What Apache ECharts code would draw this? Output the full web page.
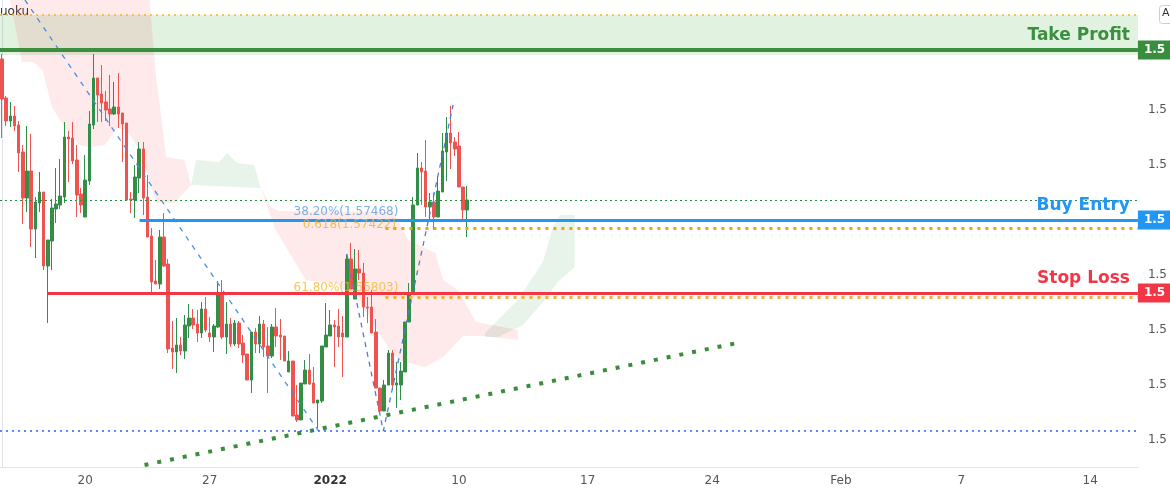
<!DOCTYPE html>
<html>
<head>
<meta charset="utf-8">
<script src="https://cdn.jsdelivr.net/npm/echarts@6/dist/echarts.min.js"></script>
<style>
html,body{margin:0;padding:0;background:#fff;}
#chart{width:1170px;height:495px;}
</style>
</head>
<body>
<div id="chart"></div>
<script>
// slots on the time axis (4h bars, weekends skipped)
var slotCount = 274;
var tickSlots = [20, 50, 79, 110, 141, 171, 202, 231, 262];
var tickTexts = ['20', '27', '2022', '10', '17', '24', 'Feb', '7', '14'];
var priceLabels = [1.619, 1.608, 1.597, 1.575, 1.564, 1.553, 1.542];

// [open, close, low, high]
var candles = [
  [1.6182,1.6102,1.6024,1.6192],[1.6104,1.6058,1.6048,1.6108],[1.6058,1.6068,1.6046,1.6096],[1.6068,1.6048,1.6038,1.6088],
  [1.6050,1.5994,1.5956,1.6058],[1.5996,1.5904,1.5852,1.6010],[1.5904,1.5958,1.5876,1.6048],[1.5958,1.5842,1.5806,1.6032],
  [1.5842,1.5896,1.5784,1.5906],[1.5894,1.5916,1.5876,1.5956],[1.5916,1.5768,1.5760,1.5916],[1.5768,1.5820,1.5654,1.5820],
  [1.5818,1.5884,1.5760,1.5902],[1.5882,1.5892,1.5854,1.5964],[1.5890,1.5908,1.5882,1.5982],[1.5906,1.6026,1.5894,1.6056],
  [1.6026,1.6022,1.5936,1.6038],[1.6024,1.5978,1.5972,1.6056],[1.5980,1.5910,1.5866,1.6010],[1.5912,1.5890,1.5874,1.5924],
  [1.5866,1.5940,1.5866,1.5990],[1.5938,1.6052,1.5930,1.6078],[1.6050,1.6144,1.6042,1.6192],[1.6144,1.6110,1.6056,1.6144],
  [1.6112,1.6094,1.6056,1.6170],[1.6096,1.6080,1.6058,1.6118],[1.6082,1.6072,1.6048,1.6150],[1.6072,1.6086,1.6070,1.6136],
  [1.6086,1.6072,1.6044,1.6154],[1.6074,1.6052,1.5976,1.6074],[1.6054,1.5900,1.5900,1.6054],[1.5902,1.5900,1.5874,1.5916],
  [1.5900,1.5946,1.5864,1.5970],[1.5944,1.6002,1.5914,1.6016],[1.6002,1.5904,1.5870,1.6016],[1.5906,1.5826,1.5826,1.5950],
  [1.5828,1.5736,1.5716,1.5844],[1.5738,1.5732,1.5732,1.5780],[1.5732,1.5826,1.5722,1.5840],[1.5826,1.5768,1.5766,1.5874],
  [1.5772,1.5602,1.5594,1.5782],[1.5604,1.5596,1.5562,1.5658],[1.5596,1.5610,1.5554,1.5664],[1.5610,1.5598,1.5590,1.5626],
  [1.5598,1.5650,1.5582,1.5670],[1.5648,1.5664,1.5624,1.5692],[1.5664,1.5650,1.5642,1.5682],[1.5652,1.5634,1.5616,1.5680],
  [1.5634,1.5682,1.5624,1.5696],[1.5682,1.5640,1.5636,1.5706],[1.5634,1.5626,1.5616,1.5666],[1.5626,1.5648,1.5596,1.5652],
  [1.5646,1.5714,1.5644,1.5738],[1.5714,1.5626,1.5622,1.5740],[1.5626,1.5652,1.5592,1.5696],[1.5652,1.5612,1.5606,1.5664],
  [1.5612,1.5654,1.5608,1.5660],[1.5654,1.5612,1.5604,1.5658],[1.5614,1.5590,1.5574,1.5630],[1.5592,1.5540,1.5540,1.5592],
  [1.5540,1.5636,1.5514,1.5636],[1.5636,1.5612,1.5594,1.5644],[1.5612,1.5652,1.5594,1.5668],[1.5652,1.5606,1.5586,1.5660],
  [1.5608,1.5588,1.5514,1.5646],[1.5588,1.5646,1.5584,1.5652],[1.5646,1.5628,1.5606,1.5684],[1.5630,1.5626,1.5580,1.5662],
  [1.5628,1.5578,1.5578,1.5628],[1.5556,1.5578,1.5556,1.5598],[1.5578,1.5468,1.5468,1.5578],[1.5470,1.5460,1.5456,1.5530],
  [1.5460,1.5534,1.5460,1.5534],[1.5532,1.5560,1.5532,1.5580],[1.5560,1.5532,1.5530,1.5592],[1.5534,1.5494,1.5494,1.5566],
  [1.5494,1.5500,1.5444,1.5500],[1.5498,1.5608,1.5494,1.5608],[1.5606,1.5630,1.5606,1.5694],[1.5628,1.5650,1.5628,1.5680],
  [1.5650,1.5646,1.5566,1.5660],[1.5648,1.5626,1.5606,1.5682],[1.5634,1.5626,1.5546,1.5668],[1.5626,1.5782,1.5626,1.5792],
  [1.5782,1.5722,1.5722,1.5814],[1.5702,1.5762,1.5702,1.5802],[1.5762,1.5754,1.5740,1.5800],[1.5754,1.5686,1.5666,1.5774],
  [1.5686,1.5684,1.5654,1.5706],[1.5686,1.5634,1.5634,1.5720],[1.5636,1.5524,1.5524,1.5662],[1.5524,1.5478,1.5478,1.5524],
  [1.5478,1.5530,1.5478,1.5540],[1.5530,1.5594,1.5530,1.5600],[1.5594,1.5530,1.5520,1.5600],[1.5530,1.5534,1.5484,1.5576],
  [1.5530,1.5558,1.5500,1.5576],[1.5556,1.5656,1.5556,1.5656],[1.5656,1.5714,1.5656,1.5734],[1.5714,1.5890,1.5714,1.5906],
  [1.5890,1.5964,1.5890,1.5994],[1.5964,1.5956,1.5890,1.5976],[1.5958,1.5886,1.5866,1.6020],[1.5886,1.5896,1.5860,1.5914],
  [1.5896,1.5866,1.5840,1.5914],[1.5866,1.5918,1.5866,1.5946],[1.5916,1.5998,1.5916,1.6034],[1.5996,1.6034,1.5938,1.6066],
  [1.6034,1.6014,1.5962,1.6088],[1.6016,1.6002,1.5988,1.6026],[1.6008,1.5926,1.5926,1.6036],[1.5926,1.5880,1.5860,1.5926],
  [1.5880,1.5900,1.5826,1.5928]
];

// ichimoku cloud outlines [slot, price]
var cloudPinkA = [[1.9,1.630],[35.5,1.630],[37.1,1.6146],[39.5,1.5986],[43.9,1.598],[45.5,1.593],[41.5,1.5894],[37.1,1.5894],
  [35,1.5954],[33.1,1.600],[30,1.604],[27.8,1.6044],[24.7,1.601],[21.1,1.6006],[18.7,1.601],[14.4,1.6054],[12,1.6086],
  [9.8,1.616],[7.4,1.6176],[4.8,1.6176]];
var cloudGreenA = [[45.5,1.593],[46.7,1.598],[52.3,1.5976],[54.2,1.5994],[56.6,1.5974],[60.7,1.597],[62.3,1.5924]];
var cloudPinkB = [[62.3,1.5924],[64.7,1.5886],[66.6,1.5878],[94.2,1.5876],[97.8,1.582],[104.3,1.5794],[106.2,1.574],
  [109.8,1.572],[114.1,1.5656],[124.2,1.564],[124.2,1.562],[115.8,1.5628],[111,1.5628],[106.2,1.5586],[101.9,1.5566],
  [95.4,1.558],[91.8,1.562],[85.8,1.570],[80.3,1.5734],[73.1,1.574],[65.9,1.584]];
var cloudGreenB = [[116.3,1.5634],[124.2,1.570],[130.2,1.5776],[132.6,1.5844],[134.3,1.587],[137.9,1.587],[137.9,1.5766],
  [133.8,1.5736],[130.7,1.570],[125.4,1.565],[119.4,1.5626],[116.3,1.5626]];

// drawings
var fallLine = [[5.5,1.630],[76.2,1.5438]];
var fibLegs = [[83,1.5792],[91.8,1.5438],[108.6,1.609]];
var trendLine = [[34.3,1.537],[177,1.5614]];

// levels
var takeProfit = 1.6200, tpZoneTop = 1.6270, tpZoneBottom = 1.6190;
var buyEntry = 1.5860, fib618 = 1.5844, stopLoss = 1.5714, fib618b = 1.5706;
var greenDot = 1.5900, lowLine = 1.5438;
var buyStart = 33.1, stopStart = 11, fibStart = 92.3, endSlot = 273.5;

var cats = [];
for (var i = 0; i < slotCount; i++) cats.push(String(i));

var cloudShapes = [
  {pts: cloudPinkA, fill: 'rgba(242,54,69,0.11)'},
  {pts: cloudGreenA, fill: 'rgba(67,160,71,0.12)'},
  {pts: cloudPinkB, fill: 'rgba(242,54,69,0.11)'},
  {pts: cloudGreenB, fill: 'rgba(67,160,71,0.12)'}
];

function hLine(x0, y, color, width, type) {
  return [{coord: [x0, y], lineStyle: {color: color, width: width, type: type}}, {coord: [endSlot, y]}];
}
function boxLine(y, color) {
  return [{coord: [endSlot - 0.01, y], lineStyle: {width: 1, color: 'rgba(0,0,0,0)'},
    label: {show: true, position: 'end', distance: 0, formatter: '1.5', color: '#fff', backgroundColor: color,
      padding: [4, 8, 3, 6], fontSize: 12, fontWeight: 'bold', fontFamily: 'DejaVu Sans'}}, {coord: [endSlot, y]}];
}
function nameLine(x0, y, color, width, text) {
  return [{coord: [x0, y], lineStyle: {color: color, width: width, type: 'solid'},
    label: {show: true, position: 'insideEndTop', distance: [8, 6], formatter: text, color: color,
      fontSize: 17, fontWeight: 'bold', fontFamily: 'DejaVu Sans'}}, {coord: [endSlot, y]}];
}

var myChart = echarts.init(document.getElementById('chart'));
var option = {
  backgroundColor: '#ffffff',
  animation: false,
  grid: {left: 0, right: 27, top: 0, bottom: 28},
  xAxis: [{
    type: 'category',
    data: cats,
    boundaryGap: true,
    axisLine: {lineStyle: {color: '#e0e3eb'}},
    axisTick: {show: false},
    splitLine: {show: false},
    axisLabel: {
      interval: function (idx) { return tickSlots.indexOf(idx) >= 0; },
      formatter: function (v, idx) {
        var k = tickSlots.indexOf(idx);
        if (k < 0) return '';
        return tickTexts[k] === '2022' ? '{b|2022}' : tickTexts[k];
      },
      color: '#555', fontSize: 12, margin: 8, fontFamily: 'DejaVu Sans',
      rich: {b: {fontWeight: 'bold', color: '#333', fontSize: 12, fontFamily: 'DejaVu Sans'}}
    }
  }, {
    type: 'value', min: -0.5, max: slotCount - 0.5, show: false
  }],
  yAxis: {
    type: 'value',
    position: 'right',
    min: 1.5366,
    max: 1.6300,
    axisLine: {show: true, lineStyle: {color: '#e0e3eb'}},
    axisTick: {show: false},
    splitLine: {show: false},
    axisLabel: {
      customValues: priceLabels,
      formatter: function () { return '1.5'; },
      color: '#555', fontSize: 12, margin: 10, fontFamily: 'DejaVu Sans'
    }
  },
  graphic: [
    {type: 'text', left: 0, top: 6, style: {text: 'uoku', fill: '#333', font: '12px DejaVu Sans'}},
    {type: 'rect', left: 1159, top: 5, shape: {width: 16, height: 18, r: 3}, style: {fill: '#fff', stroke: '#ccc'}},
    {type: 'text', left: 1162, top: 8, style: {text: 'A', fill: '#333', font: '11px DejaVu Sans'}}
  ],
  series: [{
    type: 'custom',
    xAxisIndex: 1,
    z: 1,
    data: cloudShapes.map(function (c, k) { return [k]; }),
    renderItem: function (params, api) {
      var c = cloudShapes[params.dataIndex];
      return {type: 'polygon', shape: {points: c.pts.map(function (p) { return api.coord(p); })},
        style: {fill: c.fill}};
    }
  }, {
    type: 'candlestick',
    xAxisIndex: 0,
    z: 3,
    barWidth: 3,
    data: candles,
    itemStyle: {color: '#388e3c', color0: '#ef5350', borderColor: '#2f8f4a', borderColor0: '#ef5350', borderWidth: 1}
  }, {
    type: 'line',
    xAxisIndex: 1,
    z: 4,
    symbol: 'none',
    data: fallLine,
    lineStyle: {color: '#4a8fe0', width: 1.3, type: [5, 6]}
  }, {
    type: 'line',
    xAxisIndex: 1,
    z: 4,
    symbol: 'none',
    data: fibLegs,
    lineStyle: {color: '#4a7fd0', width: 1.3, type: [5, 5]}
  }, {
    type: 'line',
    xAxisIndex: 1,
    z: 4,
    symbol: 'none',
    data: trendLine,
    lineStyle: {color: '#388e3c', width: 4, type: [4, 9]}
  }, {
    type: 'scatter',
    xAxisIndex: 1,
    z: 6,
    symbolSize: 0,
    data: [
      {value: [70.2, buyEntry], label: {formatter: '38.20%(1.57468)', color: '#5c9bdc', offset: [0, -8]}},
      {value: [72.4, fib618], label: {formatter: '0.618(1.57422)', color: '#f0b030', offset: [0, -3]}},
      {value: [70.2, stopLoss], label: {formatter: '61.80%(1.55803)', color: '#f5b82e', offset: [0, -5]}}
    ],
    label: {show: true, position: 'right', distance: 0, fontSize: 12, fontFamily: 'DejaVu Sans'}
  }, {
    type: 'line',
    xAxisIndex: 1,
    z: 5,
    data: [],
    markArea: {
      silent: true,
      itemStyle: {color: 'rgba(76,175,80,0.17)'},
      data: [[{coord: [-0.5, tpZoneTop]}, {coord: [endSlot, tpZoneBottom]}]]
    },
    markLine: {
      silent: true,
      symbol: 'none',
      label: {show: false},
      data: [
        hLine(-0.5, tpZoneTop, '#f2b824', 1.5, [2, 4]),
        hLine(-0.5, greenDot, '#2e8b3e', 1, [2, 3]),
        hLine(-0.5, lowLine, '#2962ff', 1.5, [2, 4]),
        hLine(fibStart, fib618, '#f0a20f', 3, [3, 5]),
        hLine(fibStart, fib618b, '#f5b324', 3, [3, 5]),
        nameLine(-0.5, takeProfit, '#3b8f3f', 4, 'Take Profit'),
        nameLine(buyStart, buyEntry, '#2196f3', 3, 'Buy Entry'),
        nameLine(stopStart, stopLoss, '#f23645', 3, 'Stop Loss'),
        boxLine(takeProfit, '#388e3c'),
        boxLine(buyEntry, '#2196f3'),
        boxLine(stopLoss, '#f23645')
      ]
    }
  }]
};
myChart.setOption(option);
</script>
</body>
</html>
